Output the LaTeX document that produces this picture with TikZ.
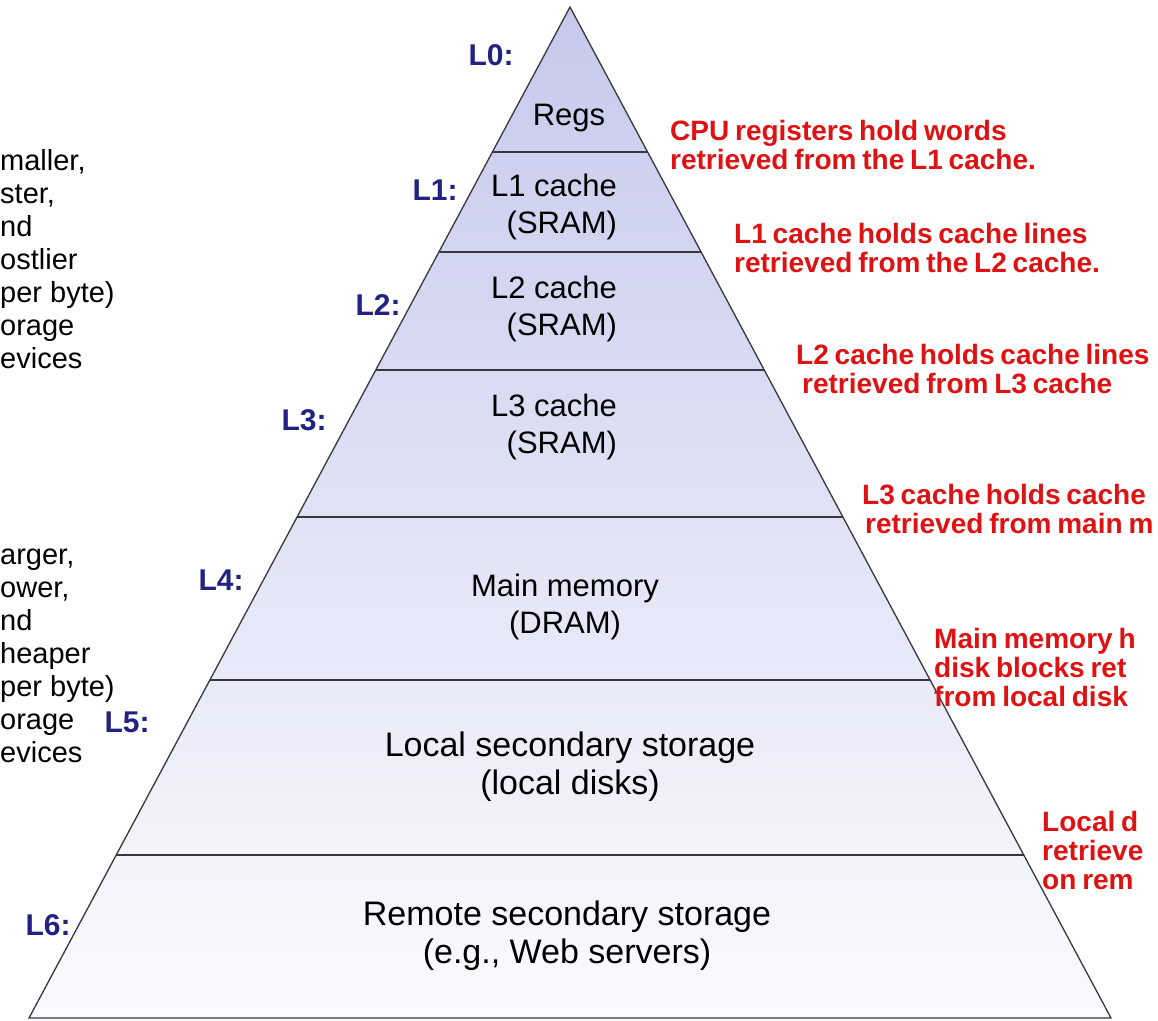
\documentclass[tikz,border=0pt]{standalone}
\usepackage{fontspec}
\setmainfont{Liberation Sans}
\newfontfamily\notefont[WordSpace=0.75]{Liberation Sans}
\usetikzlibrary{calc}

\definecolor{lvlblue}{RGB}{34,34,128}
\definecolor{noteRed}{RGB}{222,18,18}
\definecolor{pyrTop}{RGB}{198,201,236}
\definecolor{pyrBot}{RGB}{251,251,254}
\definecolor{edgeGray}{RGB}{55,55,60}

\tikzset{
  tier/.style={font=\fontsize{31}{37}\selectfont, align=center, text=black},
  bigtier/.style={tier, font=\fontsize{34}{38}\selectfont},
  lvl/.style={font=\fontsize{30}{34}\selectfont\bfseries, text=lvlblue},
  note/.style={font=\notefont\fontsize{28}{29}\selectfont\bfseries, text=noteRed, align=left, anchor=west, inner sep=0pt},
  side/.style={font=\fontsize{29}{33}\selectfont, align=left, anchor=west, inner sep=0pt, text=black}
}

\begin{document}
\begin{tikzpicture}[x=1pt,y=-1pt]
\useasboundingbox[fill=white] (0,0) rectangle (1158,1020);

\coordinate (top) at (570,7);
\coordinate (bl) at (29,1018);
\coordinate (br) at (1111,1018);

% pyramid body
\shade[top color=pyrTop, bottom color=pyrBot] (top) -- (bl) -- (br) -- cycle;

% level boundaries
\foreach \f/\n in {0.1434/a, 0.2423/b, 0.3591/c, 0.5045/d, 0.6657/e, 0.8388/f} {
  \coordinate (\n L) at ($(top)!\f!(bl)$);
  \coordinate (\n R) at ($(top)!\f!(br)$);
  \draw[edgeGray, line width=1.3pt] (\n L) -- (\n R);
}
\draw[edgeGray, line width=1.3pt] (top) -- (bl) -- (br) -- cycle;

\begin{scope}[every node/.style={tier}]
  \node (regs) at (569,118) {Regs};
  \node[align=right] (l1c) at (554,207) {L1 cache\\(SRAM)};
  \node[align=right] (l2c) at (554,309) {L2 cache\\(SRAM)};
  \node[align=right] (l3c) at (554,427) {L3 cache\\(SRAM)};
  \node (dram) at (565,607) {Main memory\\(DRAM)};
  \node[bigtier] (disk) at (570,767) {Local secondary storage\\(local disks)};
  \node[bigtier] (web)  at (567,936) {Remote secondary storage\\(e.g., Web servers)};
\end{scope}

\begin{scope}[every node/.style={lvl}]
  \node (L0) at (491,55)  {L0:};
  \node (L1) at (435,190) {L1:};
  \node (L2) at (378,305) {L2:};
  \node (L3) at (304,420) {L3:};
  \node (L4) at (221,580) {L4:};
  \node (L5) at (127,722) {L5:};
  \node (L6) at (48,925)  {L6:};
\end{scope}

\begin{scope}[every node/.style={note}]
  \node (cpuN) at (670,145) {CPU registers hold words\\retrieved from the L1 cache.};
  \node (l1N)  at (734,248) {L1 cache holds cache lines\\retrieved from the L2 cache.};
  \node (l2N)  at (796,369) {L2 cache holds cache lines\\\hspace*{6pt}retrieved from L3 cache};
  \node (l3N)  at (862,509) {L3 cache holds cache\\\hspace*{3pt}retrieved from main m};
  \node (memN) at (934,667) {Main memory h\\disk blocks ret\\from local disk};
  \node (locN) at (1042,850) {Local d\\retrieve\\on rem};
\end{scope}

\begin{scope}[every node/.style={side}]
  \node (fast) at (0,259) {maller,\\ster,\\nd\\ostlier\\per byte)\\orage\\evices};
  \node (slow) at (0,656) {arger,\\ower,\\nd\\heaper\\per byte)\\orage\\evices};
\end{scope}

\end{tikzpicture}
\end{document}
